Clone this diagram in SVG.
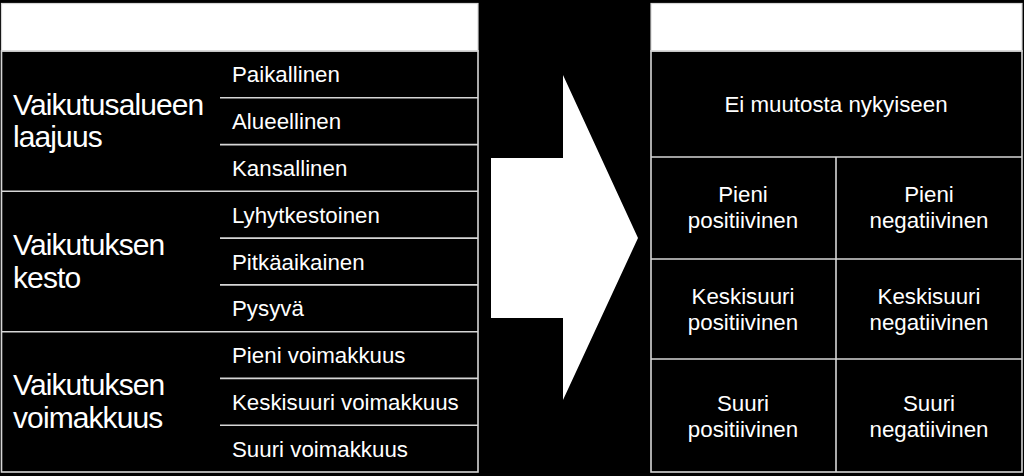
<svg xmlns="http://www.w3.org/2000/svg" width="1024" height="476" viewBox="0 0 1024 476">
<style>
.ln{stroke:#d6d6d6;stroke-width:1.6;fill:none}
.hd{fill:#ffffff;stroke:#d6d6d6;stroke-width:1.2}
.big{font-family:"Liberation Sans",Arial,sans-serif;font-size:30px;letter-spacing:-0.9px;fill:#ffffff}
.sm{font-family:"Liberation Sans",Arial,sans-serif;font-size:22.3px;fill:#ffffff}
.ctr{text-anchor:middle}
</style>
<rect x="0" y="0" width="1024" height="476" fill="#000000"/>

<g id="left-table">
  <rect class="hd" x="1.5" y="3.5" width="476.5" height="47.5"/>
  <rect class="ln" x="1.5" y="51" width="476.5" height="421"/>
</g>

<g id="connectors">
  <line class="ln" x1="220" y1="97.8" x2="478" y2="97.8"/>
  <line class="ln" x1="220" y1="144.6" x2="478" y2="144.6"/>
  <line class="ln" x1="1.5" y1="191.3" x2="478" y2="191.3"/>
  <line class="ln" x1="220" y1="238.1" x2="478" y2="238.1"/>
  <line class="ln" x1="220" y1="284.9" x2="478" y2="284.9"/>
  <line class="ln" x1="1.5" y1="331.7" x2="478" y2="331.7"/>
  <line class="ln" x1="220" y1="378.4" x2="478" y2="378.4"/>
  <line class="ln" x1="220" y1="425.2" x2="478" y2="425.2"/>
  <line class="ln" x1="651" y1="157" x2="1022" y2="157"/>
  <line class="ln" x1="651" y1="259" x2="1022" y2="259"/>
  <line class="ln" x1="651" y1="359" x2="1022" y2="359"/>
  <line class="ln" x1="836" y1="157" x2="836" y2="472"/>
</g>

<g id="group-laajuus">
  <text class="big" x="13" y="115">Vaikutusalueen</text>
  <text class="big" x="13" y="147">laajuus</text>
  <text class="sm" x="232" y="82">Paikallinen</text>
  <text class="sm" x="232" y="129">Alueellinen</text>
  <text class="sm" x="232" y="175.5">Kansallinen</text>
</g>

<g id="group-kesto">
  <text class="big" x="13" y="255">Vaikutuksen</text>
  <text class="big" x="13" y="288">kesto</text>
  <text class="sm" x="232" y="222.5">Lyhytkestoinen</text>
  <text class="sm" x="232" y="269.5">Pitkäaikainen</text>
  <text class="sm" x="232" y="316">Pysyvä</text>
</g>

<g id="group-voimakkuus">
  <text class="big" x="13" y="395">Vaikutuksen</text>
  <text class="big" x="13" y="428">voimakkuus</text>
  <text class="sm" x="232" y="363">Pieni voimakkuus</text>
  <text class="sm" x="232" y="410">Keskisuuri voimakkuus</text>
  <text class="sm" x="232" y="456.5">Suuri voimakkuus</text>
</g>

<g id="arrow">
  <polygon points="491,158 563,158 563,75 638,238 563,400 563,318 491,318" fill="#ffffff"/>
</g>

<g id="right-table">
  <rect class="hd" x="651" y="3.5" width="371" height="47.5"/>
  <rect class="ln" x="651" y="51" width="371" height="421"/>
</g>

<g id="cell-ei-muutosta">
  <text class="sm ctr" x="836" y="112">Ei muutosta nykyiseen</text>
</g>
<g id="cell-pieni-pos">
  <text class="sm ctr" x="743" y="201.5">Pieni</text>
  <text class="sm ctr" x="743" y="228">positiivinen</text>
</g>
<g id="cell-pieni-neg">
  <text class="sm ctr" x="929" y="201.5">Pieni</text>
  <text class="sm ctr" x="929" y="228">negatiivinen</text>
</g>
<g id="cell-keski-pos">
  <text class="sm ctr" x="743" y="303.5">Keskisuuri</text>
  <text class="sm ctr" x="743" y="330">positiivinen</text>
</g>
<g id="cell-keski-neg">
  <text class="sm ctr" x="929" y="303.5">Keskisuuri</text>
  <text class="sm ctr" x="929" y="330">negatiivinen</text>
</g>
<g id="cell-suuri-pos">
  <text class="sm ctr" x="743" y="411">Suuri</text>
  <text class="sm ctr" x="743" y="437">positiivinen</text>
</g>
<g id="cell-suuri-neg">
  <text class="sm ctr" x="929" y="411">Suuri</text>
  <text class="sm ctr" x="929" y="437">negatiivinen</text>
</g>
</svg>
